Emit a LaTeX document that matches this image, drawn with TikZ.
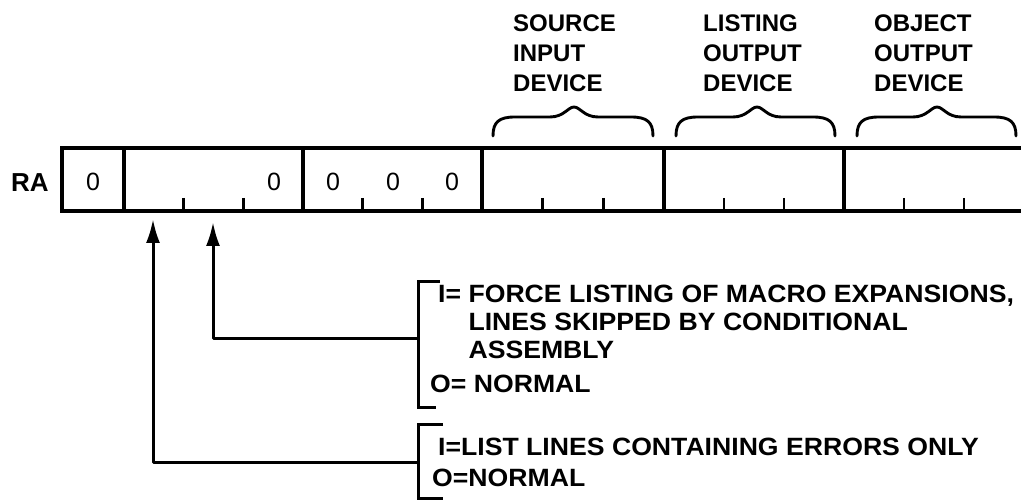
\documentclass[tikz,border=0pt]{standalone}
\usepackage{fontspec}
\setmainfont{Liberation Sans}
\newfontfamily\widefont[FakeStretch=1.065]{Liberation Sans}
\usetikzlibrary{arrows.meta}
\begin{document}
\begin{tikzpicture}[x=1pt,y=-1pt,
  reg/.style={line width=3.1pt, line join=miter},
  regtick/.style={line width=2.8pt},
  lbl/.style={inner sep=0pt, anchor=north west, align=left, font=\fontsize{24}{30}\selectfont\bfseries},
  note/.style={inner sep=0pt, anchor=north west, align=left, font=\widefont\fontsize{25}{28}\selectfont\bfseries},
  bitval/.style={inner sep=0pt, font=\fontsize{25}{28}\selectfont},
  arr/.style={line width=3pt, line join=round, -{Latex[length=24pt,width=14pt]}},
  brk/.style={line width=3pt, line join=miter},
  brc/.style={line width=2.9pt, line cap=round}]
\useasboundingbox (0,0) rectangle (1021,502);
% register
\draw[reg] (1030,148) -- (62,148) -- (62,211) -- (1030,211);
\foreach \x in {124,303,482,664,844} \draw[reg] (\x,148) -- (\x,211);
\foreach \x in {183.7,243.3,362.7,422.3,542.7,603.3,724,784,904,964}
  \draw[regtick] (\x,198) -- (\x,211);
\node[font=\fontsize{26}{28}\selectfont\bfseries, inner sep=0pt] (ra) at (30,183) {RA};
\node[bitval] (z1) at (93,182) {0};
\node[bitval] (z2) at (274,182) {0};
\node[bitval] (z3) at (333,182) {0};
\node[bitval] (z4) at (393,182) {0};
\node[bitval] (z5) at (452,182) {0};
% device labels
\node[lbl] (src) at (513,15) {SOURCE\\INPUT\\DEVICE};
\node[lbl] (lst) at (703,15) {LISTING\\OUTPUT\\DEVICE};
\node[lbl] (obj) at (874,15) {OBJECT\\OUTPUT\\DEVICE};
\foreach \l/\p/\r in {493/574/653, 676/757/835, 857/937/1016}
  \draw[brc] (\l,136) .. controls (\l,122) and (\l+6,117) .. (\l+22,117)
    -- (\p-24,117) .. controls (\p-10,117) and (\p-6,107) .. (\p,107)
    .. controls (\p+6,107) and (\p+10,117) .. (\p+24,117)
    -- (\r-22,117) .. controls (\r-6,117) and (\r,122) .. (\r,136);
% notes
\node[note] (n1) at (438,285) {I= FORCE LISTING OF MACRO EXPANSIONS,\\
  \hphantom{I= }LINES SKIPPED BY CONDITIONAL\\
  \hphantom{I= }ASSEMBLY\\[6pt]
  \hspace*{-8pt}O= NORMAL};
\node[note, font=\widefont\fontsize{25}{31}\selectfont\bfseries] (n2) at (438,438) {I=LIST LINES CONTAINING ERRORS ONLY\\\hspace*{-6pt}O=NORMAL};
\draw[brk] (440,282) -- (418,282) -- (418,408) -- (436,408);
\draw[brk] (443,425) -- (418,425) -- (418,499) -- (443,499);
\coordinate (k1) at (418,339);
\coordinate (k2) at (418,463);
\coordinate (p2) at (153,219);
\coordinate (p3) at (213,222);
\draw[arr] (k1) -| (p3);
\draw[arr] (k2) -| (p2);
\end{tikzpicture}
\end{document}
